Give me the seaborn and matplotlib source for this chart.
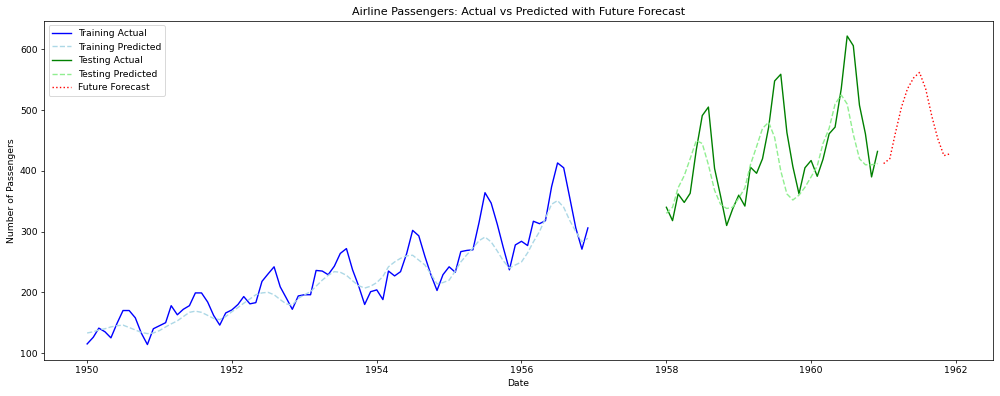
import numpy as np
import pandas as pd
import matplotlib
matplotlib.use("Agg")
import matplotlib.pyplot as plt
import seaborn as sns

train_actual = [115, 126, 141, 135, 125, 149, 170, 170, 158, 133, 114, 140,
                145, 150, 178, 163, 172, 178, 199, 199, 184, 162, 146, 166,
                171, 180, 193, 181, 183, 218, 230, 242, 209, 191, 172, 194,
                196, 196, 236, 235, 229, 243, 264, 272, 237, 211, 180, 201,
                204, 188, 235, 227, 234, 264, 302, 293, 259, 229, 203, 229,
                242, 233, 267, 269, 270, 315, 364, 347, 312, 274, 237, 278,
                284, 277, 317, 313, 318, 374, 413, 405, 355, 306, 271, 306]
train_pred = [133, 135, 138, 140, 143, 145, 146, 142, 138, 134, 132, 133,
              137, 143, 148, 153, 160, 167, 169, 167, 162, 157, 155, 160,
              168, 175, 182, 189, 196, 199, 200, 196, 188, 181, 179, 190,
              196, 201, 210, 220, 228, 234, 233, 228, 219, 211, 207, 210,
              216, 226, 242, 250, 256, 260, 261, 253, 245, 230, 214, 216,
              220, 235, 250, 262, 273, 285, 291, 283, 268, 252, 240, 245,
              250, 265, 283, 300, 322, 345, 351, 340, 318, 300, 283, 289]
test_actual = [340, 318, 362, 348, 363, 435, 491, 505, 404, 359, 310, 337,
               360, 342, 406, 396, 420, 472, 548, 559, 463, 407, 362, 405,
               417, 391, 419, 461, 472, 535, 622, 606, 508, 461, 390, 432]
test_pred = [330, 340, 372, 392, 420, 450, 445, 410, 368, 345, 338, 340,
             355, 372, 410, 440, 470, 480, 455, 400, 362, 352, 360, 373,
             390, 408, 445, 470, 510, 525, 510, 460, 420, 410, 410, 412]
forecast = [412, 420, 462, 505, 535, 553, 562, 535, 490, 453, 425, 428]

train_dates = pd.date_range("1950-01-01", periods=len(train_actual), freq="MS")
test_dates = pd.date_range("1958-01-01", periods=len(test_actual), freq="MS")
fc_dates = pd.date_range("1961-01-01", periods=len(forecast), freq="MS")

DPI = 200 / 3
fig, ax = plt.subplots(figsize=(15, 5.94), dpi=DPI)
sns.lineplot(x=train_dates, y=train_actual, color="blue", label="Training Actual", ax=ax)
sns.lineplot(x=train_dates, y=train_pred, color="lightblue", linestyle="--", label="Training Predicted", ax=ax)
sns.lineplot(x=test_dates, y=test_actual, color="green", label="Testing Actual", ax=ax)
sns.lineplot(x=test_dates, y=test_pred, color="lightgreen", linestyle="--", label="Testing Predicted", ax=ax)
sns.lineplot(x=fc_dates, y=forecast, color="red", linestyle=":", label="Future Forecast", ax=ax)

ax.set_title("Airline Passengers: Actual vs Predicted with Future Forecast")
ax.set_xlabel("Date")
ax.set_ylabel("Number of Passengers")
ax.legend(loc="upper left")
fig.subplots_adjust(left=0.044, right=0.993, top=0.948, bottom=0.091)
fig.savefig("out.png", dpi=DPI)
